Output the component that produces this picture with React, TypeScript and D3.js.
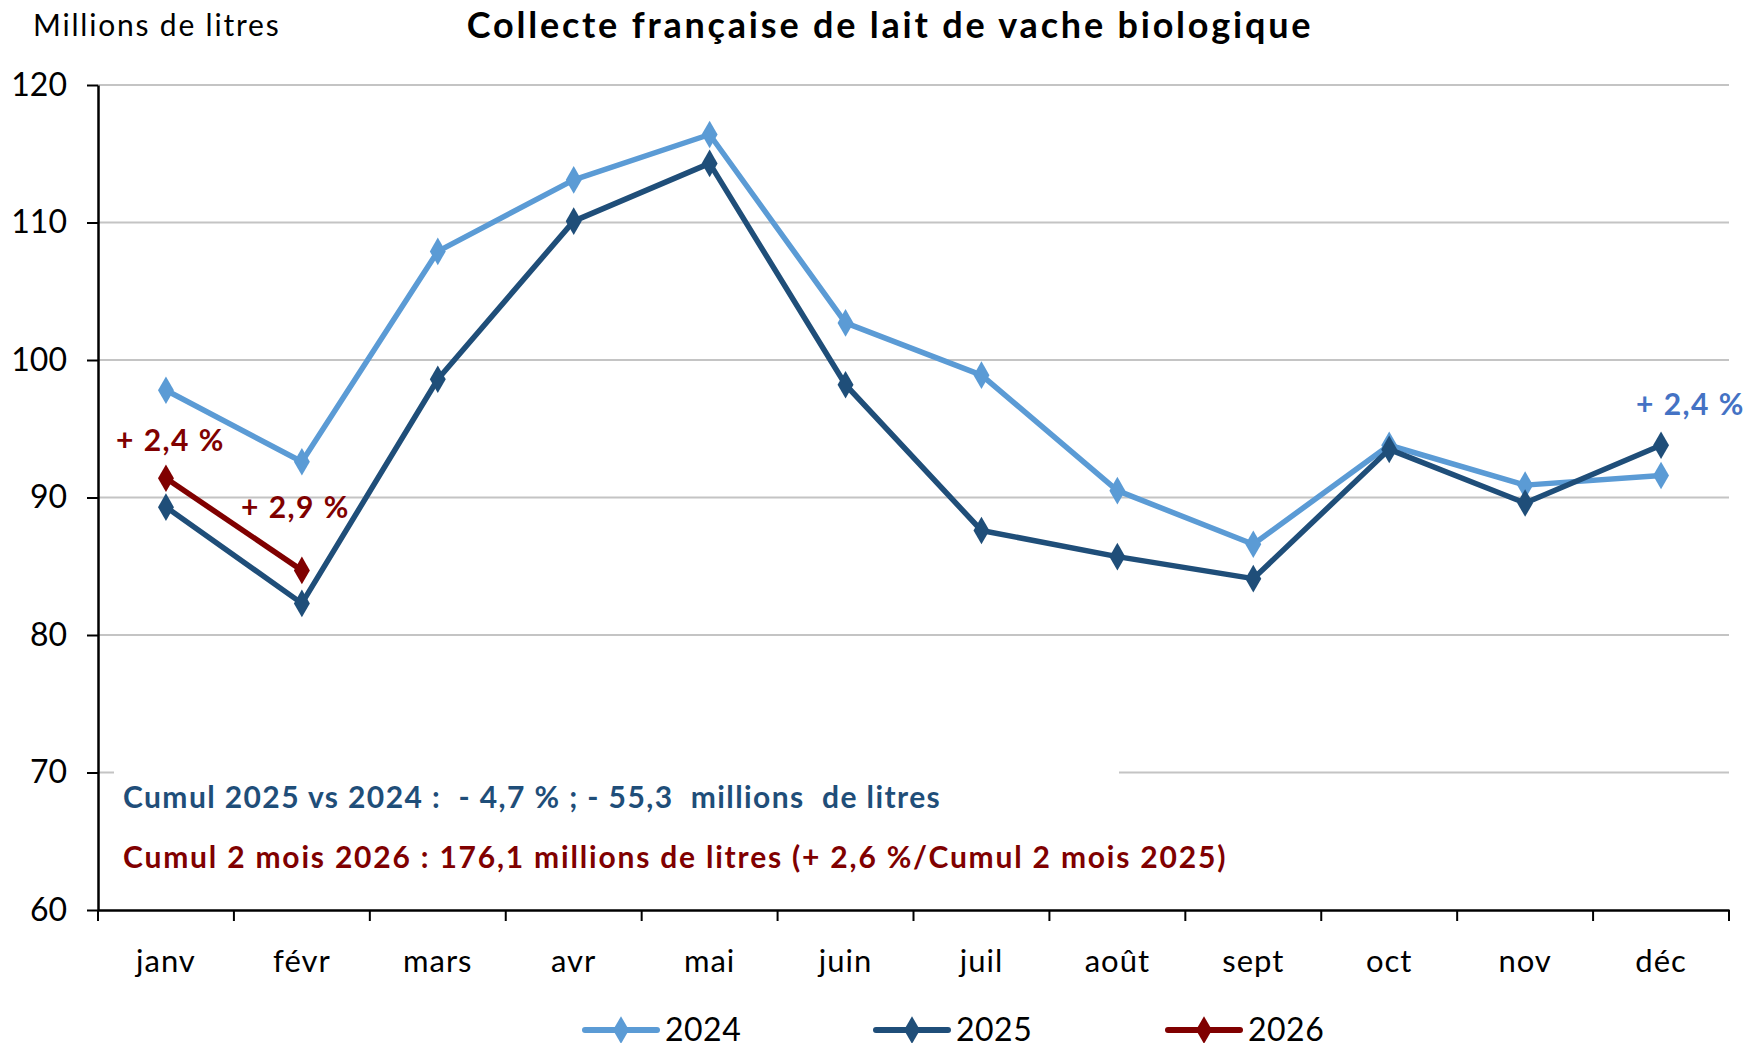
import React, { useEffect, useRef } from "react";
import * as d3 from "d3";

const months = ["janv", "févr", "mars", "avr", "mai", "juin", "juil", "août", "sept", "oct", "nov", "déc"];
const v2024 = [97.8, 92.6, 107.9, 113.1, 116.4, 102.7, 98.9, 90.5, 86.6, 93.8, 90.9, 91.6];
const v2025 = [89.3, 82.3, 98.6, 110.1, 114.3, 98.2, 87.6, 85.7, 84.1, 93.5, 89.6, 93.8];
const v2026 = [91.4, 84.7];
const yTicks = [60, 70, 80, 90, 100, 110, 120];

const C24 = "#5B9BD5";
const C25 = "#1F4E79";
const C26 = "#800000";

export default function App() {
  const ref = useRef<SVGSVGElement>(null);

  useEffect(() => {
    document.body.style.margin = "0";
    const width = 1747;
    const height = 1043;
    const left = 98, right = 1729, top = 85, bottom = 910;

    const svg = d3.select(ref.current);
    svg.selectAll("*").remove();
    svg.attr("width", width).attr("height", height);

    const x = d3.scaleBand().domain(months).range([left, right]);
    const y = d3.scaleLinear().domain([60, 120]).range([bottom, top]);
    const cx = (m: string) => (x(m) as number) + x.bandwidth() / 2;

    // grid
    svg
      .append("g")
      .selectAll("line")
      .data(yTicks.filter((t) => t > 60))
      .enter()
      .append("line")
      .attr("x1", left)
      .attr("x2", right)
      .attr("y1", (d) => y(d))
      .attr("y2", (d) => y(d))
      .attr("stroke", "#C4C4C4")
      .attr("stroke-width", 2);

    // white text box hiding part of the 70 grid line
    svg
      .append("rect")
      .attr("x", 114)
      .attr("y", y(70) - 8)
      .attr("width", 1005)
      .attr("height", 110)
      .attr("fill", "white");

    // y axis
    const yAxis = svg
      .append("g")
      .attr("transform", `translate(${left},0)`)
      .call(d3.axisLeft(y).tickValues(yTicks).tickSize(11).tickPadding(20).tickSizeOuter(0));
    yAxis.select(".domain").attr("stroke", "#000").attr("stroke-width", 2.5);
    yAxis.selectAll(".tick line").attr("stroke", "#000").attr("stroke-width", 2);
    yAxis
      .selectAll("text")
      .attr("font-family", "Lato")
      .attr("font-size", 32)
      .attr("fill", "#000");

    // x axis
    const xAxis = svg
      .append("g")
      .attr("transform", `translate(0,${bottom})`)
      .call(d3.axisBottom(x).tickSize(0).tickPadding(40).tickSizeOuter(0));
    xAxis.select(".domain").attr("stroke", "#000").attr("stroke-width", 2.5);
    xAxis
      .selectAll("text")
      .attr("font-family", "Lato")
      .attr("font-size", 31)
      .attr("letter-spacing", 1)
      .attr("fill", "#000");
    svg
      .append("g")
      .selectAll("line")
      .data(d3.range(months.length + 1))
      .enter()
      .append("line")
      .attr("x1", (i) => left + i * x.step())
      .attr("x2", (i) => left + i * x.step())
      .attr("y1", bottom)
      .attr("y2", bottom + 11)
      .attr("stroke", "#000")
      .attr("stroke-width", 2);

    const line = d3
      .line<number>()
      .x((d, i) => cx(months[i]))
      .y((d) => y(d));
    const diamond = d3.symbol().type(d3.symbolDiamond).size(220);

    const series: [number[], string][] = [
      [v2024, C24],
      [v2025, C25],
      [v2026, C26],
    ];
    series.forEach(([vals, col]) => {
      svg
        .append("path")
        .datum(vals)
        .attr("d", line)
        .attr("fill", "none")
        .attr("stroke", col)
        .attr("stroke-width", 5.5)
        .attr("stroke-linejoin", "round");
      svg
        .append("g")
        .selectAll("path")
        .data(vals)
        .enter()
        .append("path")
        .attr("d", diamond)
        .attr("transform", (d, i) => `translate(${cx(months[i])},${y(d)})`)
        .attr("fill", col);
    });

    // titles
    svg
      .append("text")
      .attr("x", 33)
      .attr("y", 36)
      .attr("font-family", "Lato")
      .attr("font-size", 30)
      .attr("letter-spacing", 1.8)
      .text("Millions de litres");
    svg
      .append("text")
      .attr("x", 890)
      .attr("y", 38)
      .attr("text-anchor", "middle")
      .attr("font-family", "Lato")
      .attr("font-weight", "bold")
      .attr("font-size", 36)
      .attr("letter-spacing", 2.8)
      .text("Collecte française de lait de vache biologique");

    // annotations
    const ann = (tx: number, ty: number, t: string, col: string, ls = 1.5) =>
      svg
        .append("text")
        .attr("x", tx)
        .attr("y", ty)
        .attr("font-family", "Lato")
        .attr("font-weight", "bold")
        .attr("font-size", 30)
        .attr("letter-spacing", ls)
        .attr("fill", col)
        .style("white-space", "pre")
        .text(t);
    ann(116, 451, "+ 2,4 %", C26);
    ann(241, 518, "+ 2,9 %", C26);
    ann(1636, 415, "+ 2,4 %", "#4472C4");
    ann(123, 808, "Cumul 2025 vs 2024 :  - 4,7 % ; - 55,3  millions  de litres", C25, 1.4);
    ann(123, 868, "Cumul 2 mois 2026 : 176,1 millions de litres (+ 2,6 %/Cumul 2 mois 2025)", C26, 1.8);

    // legend
    const legend = [
      ["2024", C24, 585],
      ["2025", C25, 876],
      ["2026", C26, 1168],
    ] as [string, string, number][];
    legend.forEach(([name, col, lx]) => {
      const g = svg.append("g").attr("transform", `translate(${lx},1030)`);
      g.append("line")
        .attr("x1", 0)
        .attr("x2", 72)
        .attr("stroke", col)
        .attr("stroke-width", 6)
        .attr("stroke-linecap", "round");
      g.append("path").attr("d", diamond).attr("transform", "translate(36,0)").attr("fill", col);
      g.append("text")
        .attr("x", 80)
        .attr("y", 11)
        .attr("font-family", "Lato")
        .attr("font-size", 32)
        .attr("letter-spacing", 0.5)
        .text(name);
    });
  }, []);

  return <svg ref={ref} />;
}
